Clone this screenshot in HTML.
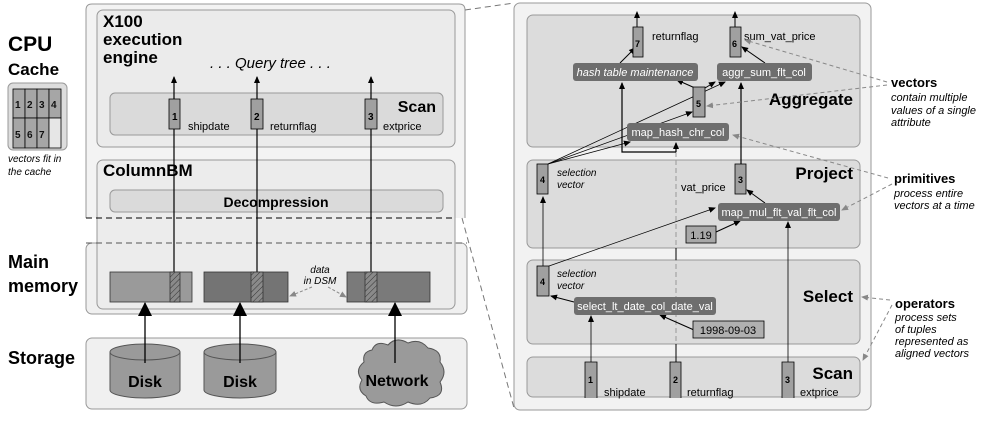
<!DOCTYPE html>
<html><head><meta charset="utf-8"><style>
html,body{margin:0;padding:0;background:#fff;}
svg{display:block;font-family:"Liberation Sans",sans-serif;}
.b{font-weight:bold;}
.i{font-style:italic;}
</style></head><body>
<svg width="994" height="422" viewBox="0 0 994 422" xmlns="http://www.w3.org/2000/svg">
<defs>
<marker id="a" markerWidth="7" markerHeight="7" refX="6" refY="3" orient="auto" markerUnits="userSpaceOnUse"><path d="M0,0 L7,3 L0,6 z" fill="#000"/></marker>
<marker id="g" markerWidth="7" markerHeight="7" refX="6" refY="3" orient="auto" markerUnits="userSpaceOnUse"><path d="M0,0 L7,3 L0,6 z" fill="#888"/></marker>
<marker id="big" markerWidth="14" markerHeight="16" refX="13" refY="7" orient="auto" markerUnits="userSpaceOnUse"><path d="M0,0 L14,7 L0,14 z" fill="#000"/></marker>
<pattern id="h" width="4" height="4" patternUnits="userSpaceOnUse" patternTransform="rotate(45)"><rect width="4" height="4" fill="#8a8a8a"/><line x1="0" y1="0" x2="0" y2="4" stroke="#333" stroke-width="1"/></pattern>
</defs>

<!-- LEFT PANEL -->
<g stroke="#999" stroke-width="1">
<path d="M86,218 L86,10 Q86,4 92,4 L459,4 Q465,4 465,10 L465,218" fill="#f3f3f3"/>
<rect x="86" y="243" width="381" height="71" rx="6" fill="#f0f0f0"/>
<rect x="97" y="160" width="358" height="149" rx="6" fill="#ececec"/>
<rect x="97" y="10" width="358" height="137" rx="6" fill="#ebebeb"/>
<rect x="110" y="93" width="333" height="42" rx="5" fill="#dadada"/>
<rect x="110" y="190" width="333" height="22" rx="5" fill="#dadada"/>
<rect x="86" y="338" width="381" height="71" rx="6" fill="#f0f0f0"/>
</g>
<line x1="86" y1="218" x2="455" y2="218" stroke="#000" stroke-dasharray="6,4"/>
<line x1="86" y1="243" x2="467" y2="243" stroke="#555" stroke-dasharray="6,4"/>

<text x="8" y="51" class="b" font-size="21">CPU</text>
<text x="8" y="75" class="b" font-size="17">Cache</text>
<rect x="8" y="83" width="59" height="67" rx="5" fill="#ddd" stroke="#999"/>
<g stroke="#000" stroke-width="0.8" font-size="10" class="b">
<rect x="13" y="89" width="12" height="29" fill="#a6a6a6"/><rect x="25" y="89" width="12" height="29" fill="#a6a6a6"/><rect x="37" y="89" width="12" height="29" fill="#a6a6a6"/><rect x="49" y="89" width="12" height="29" fill="#a6a6a6"/>
<rect x="13" y="118" width="12" height="30" fill="#a6a6a6"/><rect x="25" y="118" width="12" height="30" fill="#a6a6a6"/><rect x="37" y="118" width="12" height="30" fill="#a6a6a6"/><rect x="49" y="118" width="12" height="30" fill="#e6e6e6"/>
</g>
<g font-size="10" class="b" fill="#111">
<text x="15" y="108">1</text><text x="27" y="108">2</text><text x="39" y="108">3</text><text x="51" y="108">4</text>
<text x="15" y="138">5</text><text x="27" y="138">6</text><text x="39" y="138">7</text>
</g>
<text x="8" y="162" class="i" font-size="10">vectors fit in</text>
<text x="8" y="175" class="i" font-size="10">the cache</text>

<text x="103" y="27" class="b" font-size="17">X100</text>
<text x="103" y="45" class="b" font-size="17">execution</text>
<text x="103" y="63" class="b" font-size="17">engine</text>
<text x="210" y="68" class="i" font-size="15">. . . Query tree . . .</text>
<text x="436" y="112" class="b" font-size="16" text-anchor="end">Scan</text>
<text x="103" y="176" class="b" font-size="17">ColumnBM</text>
<text x="276" y="207" class="b" font-size="14" text-anchor="middle">Decompression</text>

<g stroke="#000" stroke-width="1.2">
<line x1="174" y1="272" x2="174" y2="77" marker-end="url(#a)"/>
<line x1="257" y1="272" x2="257" y2="77" marker-end="url(#a)"/>
<line x1="371" y1="272" x2="371" y2="77" marker-end="url(#a)"/>
</g>
<g stroke="#000" stroke-width="0.8" fill="#a0a0a0">
<rect x="169" y="99" width="11" height="30"/><rect x="251" y="99" width="12" height="30"/><rect x="365" y="99" width="12" height="30"/>
</g>
<g font-size="10" class="b"><text x="172" y="120">1</text><text x="254" y="120">2</text><text x="368" y="120">3</text></g>
<g font-size="11"><text x="188" y="130">shipdate</text><text x="270" y="130">returnflag</text><text x="383" y="130">extprice</text></g>

<text x="8" y="268" class="b" font-size="18">Main</text>
<text x="8" y="292" class="b" font-size="18">memory</text>
<text x="8" y="364" class="b" font-size="18">Storage</text>

<g stroke="#333" stroke-width="0.8">
<rect x="110" y="272" width="82" height="30" fill="#9a9a9a"/>
<rect x="204" y="272" width="84" height="30" fill="#747474"/>
<rect x="347" y="272" width="83" height="30" fill="#7a7a7a"/>
<rect x="170" y="272" width="10" height="30" fill="url(#h)"/>
<rect x="251" y="272" width="12" height="30" fill="url(#h)"/>
<rect x="365" y="272" width="12" height="30" fill="url(#h)"/>
</g>
<text x="320" y="273" class="i" font-size="10" text-anchor="middle">data</text>
<text x="320" y="284" class="i" font-size="10" text-anchor="middle">in DSM</text>
<path d="M312,287 L290,296" stroke="#888" stroke-dasharray="3,2" marker-end="url(#g)" fill="none"/>
<path d="M328,287 L346,297" stroke="#888" stroke-dasharray="3,2" marker-end="url(#g)" fill="none"/>

<!-- disks -->
<g stroke="#555" fill="#9a9a9a">
<path d="M110,352 L110,390 A35,8 0 0 0 180,390 L180,352"/>
<ellipse cx="145" cy="352" rx="35" ry="8"/>
<path d="M204,352 L204,390 A36,8 0 0 0 276,390 L276,352"/>
<ellipse cx="240" cy="352" rx="36" ry="8"/>
<path d="M372,350 Q376,340 388,345 Q396,336 408,343 Q420,338 428,348 Q442,350 440,362 Q448,372 440,382 Q446,396 430,398 Q422,408 408,402 Q396,410 384,402 Q370,406 366,396 Q356,390 362,380 Q354,370 364,362 Q362,352 372,350 z"/>
</g>
<g class="b" font-size="16" text-anchor="middle">
<text x="145" y="387">Disk</text><text x="240" y="387">Disk</text><text x="397" y="386">Network</text>
</g>
<g stroke="#000" stroke-width="1.3">
<line x1="145" y1="363" x2="145" y2="303" marker-end="url(#big)"/>
<line x1="240" y1="363" x2="240" y2="303" marker-end="url(#big)"/>
<line x1="395" y1="363" x2="395" y2="303" marker-end="url(#big)"/>
</g>

<!-- zoom connectors -->
<line x1="465" y1="10" x2="514" y2="3" stroke="#777" stroke-dasharray="6,4"/>
<line x1="462" y1="218" x2="514" y2="408" stroke="#777" stroke-dasharray="6,4"/>

<!-- RIGHT PANEL -->
<g stroke="#999">
<rect x="514" y="3" width="357" height="407" rx="6" fill="#f2f2f2"/>
<rect x="527" y="15" width="333" height="132" rx="6" fill="#dcdcdc"/>
<rect x="527" y="160" width="333" height="88" rx="6" fill="#dcdcdc"/>
<rect x="527" y="260" width="333" height="84" rx="6" fill="#dcdcdc"/>
<rect x="527" y="357" width="333" height="40" rx="6" fill="#dcdcdc"/>
</g>
<g class="b" font-size="17" text-anchor="end">
<text x="853" y="105">Aggregate</text><text x="853" y="179">Project</text><text x="853" y="302">Select</text><text x="853" y="379">Scan</text>
</g>

<!-- faint vertical returnflag path -->
<line x1="676" y1="152" x2="676" y2="362" stroke="#999" stroke-dasharray="5,3"/>
<line x1="676" y1="248" x2="676" y2="260" stroke="#000"/>
<line x1="676" y1="344" x2="676" y2="362" stroke="#000"/>

<g stroke="#000" stroke-width="1" fill="none">
<line x1="637" y1="27" x2="637" y2="12" marker-end="url(#a)"/>
<line x1="735" y1="27" x2="735" y2="12" marker-end="url(#a)"/>
<line x1="620" y1="63" x2="635" y2="48" marker-end="url(#a)"/>
<line x1="765" y1="63" x2="742" y2="47" marker-end="url(#a)"/>
<line x1="695" y1="88" x2="677" y2="80" marker-end="url(#a)"/>
<line x1="705" y1="88" x2="715" y2="82" marker-end="url(#a)"/>
<line x1="548" y1="164" x2="725" y2="82" marker-end="url(#a)" stroke-width="0.7"/>
<line x1="548" y1="164" x2="692" y2="112" marker-end="url(#a)" stroke-width="0.7"/>
<line x1="548" y1="164" x2="630" y2="142" marker-end="url(#a)" stroke-width="0.7"/>
<path d="M676,152 L622,152 L622,83" marker-end="url(#a)" stroke-width="1.2"/>
<line x1="676" y1="152" x2="676" y2="143" marker-end="url(#a)" stroke-width="1.2"/>
<line x1="741" y1="164" x2="741" y2="83" marker-end="url(#a)" stroke-width="1.2"/>
<line x1="765" y1="203" x2="747" y2="190" marker-end="url(#a)"/>
<line x1="543" y1="266" x2="543" y2="197" marker-end="url(#a)" stroke-width="0.8"/>
<line x1="549" y1="266" x2="715" y2="208" marker-end="url(#a)" stroke-width="0.7"/>
<line x1="716" y1="232" x2="740" y2="221" marker-end="url(#a)"/>
<line x1="788" y1="362" x2="788" y2="222" marker-end="url(#a)" stroke-width="0.8"/>
<line x1="574" y1="302" x2="551" y2="296" marker-end="url(#a)"/>
<line x1="591" y1="362" x2="591" y2="316" marker-end="url(#a)" stroke-width="0.8"/>
<line x1="694" y1="330" x2="660" y2="315" marker-end="url(#a)"/>
</g>

<!-- vectors right -->
<g stroke="#000" stroke-width="0.8" fill="#a0a0a0">
<rect x="633" y="27" width="10" height="30"/><rect x="730" y="27" width="11" height="30"/>
<rect x="693" y="87" width="12" height="30"/>
<rect x="537" y="164" width="11" height="30"/><rect x="735" y="164" width="11" height="30"/>
<rect x="537" y="266" width="12" height="30"/>
<path d="M585,398 L585,362 L597,362 L597,398"/><path d="M670,398 L670,362 L681,362 L681,398"/><path d="M782,398 L782,362 L794,362 L794,398"/>
</g>
<g font-size="9" class="b">
<text x="635" y="47">7</text><text x="732" y="47">6</text><text x="696" y="107">5</text>
<text x="540" y="183">4</text><text x="738" y="183">3</text><text x="540" y="285">4</text>
<text x="588" y="383">1</text><text x="673" y="383">2</text><text x="785" y="383">3</text>
</g>
<g font-size="11">
<text x="652" y="40">returnflag</text><text x="744" y="40">sum_vat_price</text>
<text x="681" y="191">vat_price</text>
<text x="604" y="396">shipdate</text><text x="687" y="396">returnflag</text><text x="800" y="396">extprice</text>
</g>
<g font-size="10" class="i">
<text x="557" y="176">selection</text><text x="557" y="188">vector</text>
<text x="557" y="277">selection</text><text x="557" y="289">vector</text>
</g>

<!-- primitives -->
<g fill="#6e6e6e">
<rect x="573" y="63" width="125" height="18" rx="3"/>
<rect x="717" y="63" width="95" height="18" rx="3"/>
<rect x="627" y="123" width="102" height="18" rx="3"/>
<rect x="718" y="203" width="122" height="18" rx="3"/>
<rect x="574" y="297" width="142" height="18" rx="3"/>
</g>
<g fill="#fff" font-size="11" text-anchor="middle">
<text x="635" y="76" class="i">hash table maintenance</text>
<text x="764" y="76">aggr_sum_flt_col</text>
<text x="678" y="136">map_hash_chr_col</text>
<text x="779" y="216">map_mul_flt_val_flt_col</text>
<text x="645" y="310">select_lt_date_col_date_val</text>
</g>
<rect x="686" y="226" width="30" height="17" fill="#a8a8a8" stroke="#000" stroke-width="0.8"/>
<text x="701" y="239" font-size="11" text-anchor="middle">1.19</text>
<rect x="693" y="321" width="71" height="17" fill="#b0b0b0" stroke="#000" stroke-width="0.8"/>
<text x="728" y="334" font-size="11" text-anchor="middle">1998-09-03</text>

<!-- annotations -->
<g stroke="#888" stroke-dasharray="4,3" fill="none">
<line x1="887" y1="82" x2="745" y2="40" marker-end="url(#g)"/>
<line x1="887" y1="85" x2="707" y2="106" marker-end="url(#g)"/>
<line x1="888" y1="178" x2="733" y2="135" marker-end="url(#g)"/>
<line x1="892" y1="184" x2="842" y2="210" marker-end="url(#g)"/>
<line x1="890" y1="300" x2="862" y2="297" marker-end="url(#g)"/>
<line x1="892" y1="305" x2="863" y2="360" marker-end="url(#g)"/>
</g>
<text x="891" y="87" class="b" font-size="13">vectors</text>
<g class="i" font-size="11"><text x="891" y="101">contain multiple</text><text x="891" y="114">values of a single</text><text x="891" y="126">attribute</text></g>
<text x="894" y="183" class="b" font-size="13">primitives</text>
<g class="i" font-size="11"><text x="894" y="197">process entire</text><text x="894" y="209">vectors at a time</text></g>
<text x="895" y="308" class="b" font-size="13">operators</text>
<g class="i" font-size="11"><text x="895" y="321">process sets</text><text x="895" y="333">of tuples</text><text x="895" y="345">represented as</text><text x="895" y="357">aligned vectors</text></g>
</svg>
</body></html>
